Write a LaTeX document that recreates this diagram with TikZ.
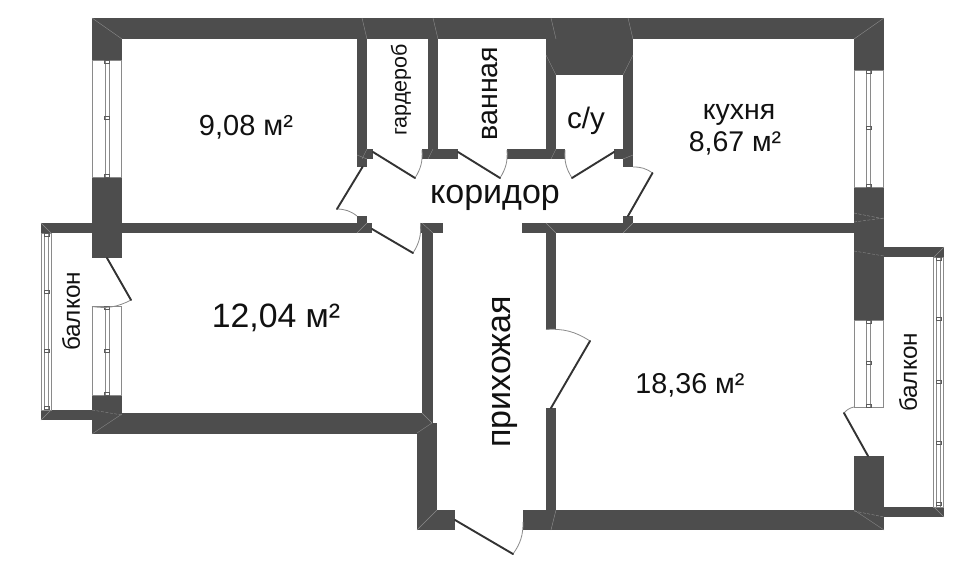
\documentclass[tikz,border=0pt]{standalone}
\usepackage{fontspec}
\setmainfont{Liberation Sans}
\definecolor{wallc}{HTML}{4D4D4D}
\definecolor{edgec}{HTML}{8A8A8A}
\definecolor{mitre}{HTML}{8C8C8C}
\definecolor{leafc}{HTML}{333333}
\definecolor{txt}{HTML}{111111}
\tikzset{
  wallr/.style={fill=wallc,draw=none},
  leaf/.style={draw=leafc,line width=1.9pt,line cap=round},
  swing/.style={draw=edgec,line width=0.8pt},
  mit/.style={draw=mitre,line width=0.4pt},
  mitd/.style={draw=mitre,line width=0.4pt,dash pattern=on 3pt off 1.5pt},
  lbl/.style={text=txt,inner sep=0pt,align=center},
  winout/.style={fill=white,draw=edgec,line width=0.9pt},
  rail/.style={fill=white,draw=edgec,line width=0.7pt},
  tick/.style={draw=leafc!80!white,line width=0.5pt},
}
\newcommand{\W}[4]{\path[wallr] (#1,#2) rectangle (#3,#4);}
% window: outer x1,y1,x2,y2; rail x a,b; list of tick y
\newcommand{\Win}[7]{%
  \path[winout] (#1,#2) rectangle (#3,#4);
  \path[rail] (#5,#2) rectangle (#6,#4);
  \foreach \ty in {#7} {\draw[tick] (#5-0.5,\ty-1.5) rectangle (#6+0.5,\ty+1.5);}
}
\newcommand{\Door}[7]{%
  \draw[swing] (#3,#4) to[bend #7=18] (#5,#6);
  \draw[leaf] (#1,#2) -- (#3,#4);
}
\newcommand{\fs}[1]{\fontsize{#1}{#1}\selectfont}
\begin{document}
\begin{tikzpicture}[x=1pt,y=-1pt]
\useasboundingbox (0,0) rectangle (961,572);
\fill[white] (0,0) rectangle (961,572);
% outer top
\W{92}{18}{884}{39}
\W{92}{18}{122}{60}
\W{92}{177}{122}{258}
\W{854}{18}{884}{70}
\W{854}{187}{884}{320}
\W{854}{456}{884}{530}
\W{92}{395}{122}{434}
% mid horizontal
\W{41}{223}{372}{233}
\W{357}{216}{367}{223}
\W{420}{223}{443}{233}
\W{522}{223}{854}{233}
\W{623}{216}{633}{223}
% bottom
\W{92}{413}{432}{434}
\W{41}{410}{92}{420}
\W{422}{233}{433}{423}
\W{417}{423}{437}{530}
\W{417}{510}{455}{530}
\W{523}{510}{884}{530}
% prihozhaya right wall
\W{546}{233}{556}{329}
\W{546}{408}{556}{510}
% balcony right
\W{884}{247}{944}{257}
\W{884}{507}{944}{517}
% interior upper
\W{357}{39}{367}{167}
\W{367}{149}{373}{159}
\W{428}{39}{438}{149}
\W{422}{149}{458}{159}
\W{507}{149}{565}{159}
\W{546}{39}{556}{149}
\W{556}{39}{623}{75}
\W{623}{39}{633}{167}
\W{614}{149}{623}{159}
% windows
\Win{92.5}{60}{121.5}{177}{105}{109}{61.5,118,175.5}
\Win{92.5}{306.5}{121.5}{395}{105}{109}{308,351,393.5}
\Win{854}{70}{883.5}{187}{866.5}{870.5}{71.5,128,185.5}
\Win{854}{320}{883.5}{407}{866.5}{870.5}{321.5,363,405.5}
\Win{41.5}{233}{51.5}{410}{44.5}{48.5}{235,292,351,408}
\Win{933.5}{257}{943.5}{507}{936.5}{940.5}{259,319,382,443,504}
% doors
\Door{107}{258}{131}{300}{92}{306.5}{left}
\Door{373}{152}{415}{178}{422}{150}{right}
\Door{458}{152}{500}{178}{507}{150}{right}
\Door{614}{152}{572}{178}{565}{150}{left}
\Door{628}{216}{652.5}{173}{633}{167}{right}
\Door{362.5}{167}{337}{209}{357}{216}{left}
\Door{372}{229}{413}{253}{420.5}{223}{right}
\Door{455}{520}{513}{554}{523}{522}{right}
\Door{551}{408}{590}{341}{546}{329.5}{right}
\Door{868}{456}{844}{413}{854}{407}{left}
% mitre lines
\draw[mit] (92,18) -- (122,39);
\draw[mit] (884,18) -- (854,39);
\draw[mit] (41,223) -- (51,233);
\draw[mit] (944,247) -- (934,257);
\draw[mit] (944,517) -- (934,507);
\draw[mit] (41,420) -- (51,410);
\draw[mit] (92,434) -- (122,414);
\draw[mitd] (92,410) -- (122,415);
\draw[mitd] (854,213) -- (884,219);
\draw[mitd] (854,222) -- (884,218);
\draw[mitd] (854,251) -- (884,256);
\draw[mit] (854,510) -- (884,530);
\draw[mitd] (854,511) -- (884,517);
\draw[mit] (417,530) -- (437,510);
\draw[mit] (417,433) -- (432,423);
\draw[mit] (422,413) -- (432,423);
\draw[mit] (551,530) -- (556,510);
\draw[mit] (362,18) -- (367,39);
\draw[mit] (433,18) -- (438,39);
\draw[mit] (551,18) -- (556,39);
\draw[mit] (628,18) -- (633,39);
\draw[mit] (546,55) -- (556,75);
\draw[mit] (633,55) -- (623,75);
\draw[mit] (357,155) -- (367,159);
\draw[mit] (367,149) -- (362,159);
\draw[mit] (428,159) -- (433,149);
\draw[mit] (551,159) -- (556,149);
\draw[mit] (623,159) -- (633,155);
\draw[mit] (357,233) -- (367,223);
\draw[mit] (422,223) -- (433,233);
\draw[mit] (546,223) -- (556,233);
\draw[mit] (623,233) -- (633,223);
% labels
\node[lbl,font=\fs{29}] (r1) at (246,127) {9,08 м²};
\node[lbl,font=\fs{33.8}] (r2) at (276,318) {12,04 м²};
\node[lbl,font=\fs{28.7}] (r3) at (690,385) {18,36 м²};
\node[lbl,font=\fs{28.5}] (r4a) at (739,115) {кухня};
\node[lbl,font=\fs{28.5}] (r4b) at (735,143) {8,67 м²};
\node[lbl,font=\fs{21.5},rotate=90] (r5) at (401,90) {гардероб};
\node[lbl,font=\fs{28.6},rotate=90] (r6) at (490,93.5) {ванная};
\node[lbl,font=\fs{29.6}] (r7) at (586,121) {с/у};
\node[lbl,font=\fs{34}] (r8) at (495,198) {коридор};
\node[lbl,font=\fs{34},rotate=90] (r9) at (505,372) {прихожая};
\node[lbl,font=\fs{24.3},rotate=90] (r10) at (71,311.5) {балкон};
\node[lbl,font=\fs{24.3},rotate=90] (r11) at (908,372.5) {балкон};
\end{tikzpicture}
\end{document}
